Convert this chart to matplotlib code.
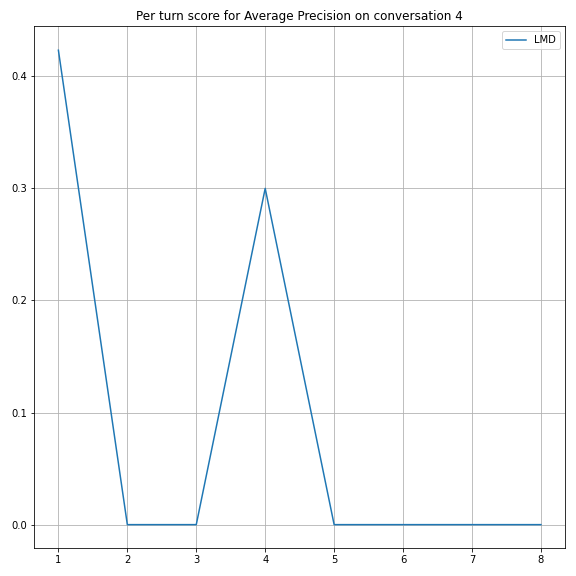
import matplotlib
matplotlib.use('Agg')
import matplotlib.pyplot as plt

turns = [1, 2, 3, 4, 5, 6, 7, 8]
lmd_scores = [0.4233, 0.0, 0.0, 0.3, 0.0, 0.0, 0.0, 0.0]

fig, ax = plt.subplots(figsize=(8, 8), dpi=72)
ax.plot(turns, lmd_scores, label='LMD')
ax.set_title('Per turn score for Average Precision on conversation 4')
ax.legend(loc='upper right')
ax.grid(True)
fig.subplots_adjust(left=0.0595, right=0.981, top=0.954, bottom=0.048)
fig.savefig('out.png', dpi=72, facecolor='white')
